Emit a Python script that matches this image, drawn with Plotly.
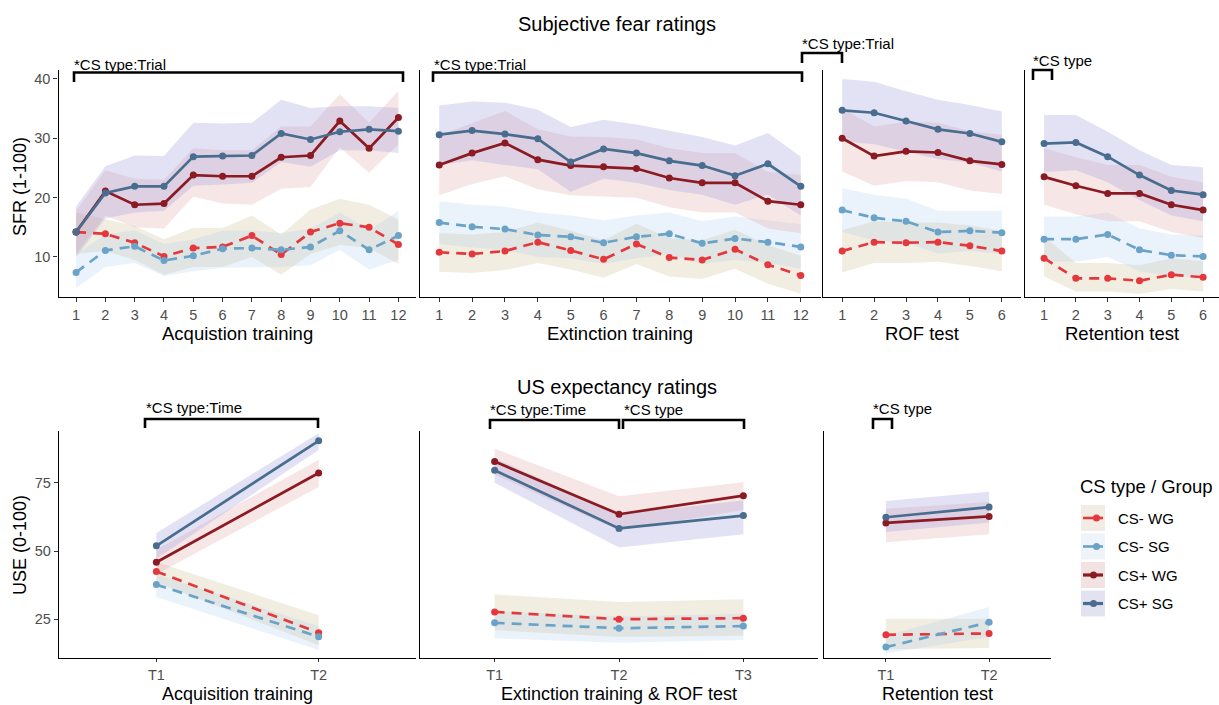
import plotly.graph_objects as go

W, H = 1219, 705

groups = ["CS- WG", "CS- SG", "CS+ WG", "CS+ SG"]
line_colors = {"CS- WG": "#E5383C", "CS- SG": "#6AA2C8", "CS+ WG": "#8B1A22", "CS+ SG": "#486D8F"}
fill_colors = {"CS- WG": "rgba(205,185,140,0.26)", "CS- SG": "rgba(175,210,240,0.26)",
               "CS+ WG": "rgba(225,160,160,0.26)", "CS+ SG": "rgba(150,150,215,0.28)"}
legend_box = {"CS- WG": "#F2ECE4", "CS- SG": "#EEF4FA", "CS+ WG": "#F2E2E2", "CS+ SG": "#E2E2F1"}
dashes = {"CS- WG": "10px,7px", "CS- SG": "10px,7px", "CS+ WG": "solid", "CS+ SG": "solid"}

# ---------------- Subjective fear ratings (SFR) ----------------
sfr_acq_x = [1, 2, 3, 4, 5, 6, 7, 8, 9, 10, 11, 12]
sfr_acq_mean = {
    "CS- WG": [14.2, 13.9, 12.4, 10.1, 11.5, 11.7, 13.6, 10.4, 14.2, 15.7, 15.0, 12.1],
    "CS- SG": [7.4, 11.1, 11.8, 9.4, 10.2, 11.4, 11.5, 11.2, 11.7, 14.4, 11.2, 13.6],
    "CS+ WG": [14.2, 21.1, 18.8, 19.0, 23.8, 23.6, 23.6, 26.8, 27.1, 32.9, 28.3, 33.5],
    "CS+ SG": [14.2, 20.8, 21.9, 21.9, 26.9, 27.0, 27.1, 30.8, 29.8, 31.1, 31.5, 31.2],
}
sfr_acq_lo = {
    "CS- WG": [10.5, 11.0, 9.5, 7.0, 8.3, 8.3, 10.0, 7.0, 10.5, 12.0, 11.5, 8.8],
    "CS- SG": [4.8, 8.3, 9.0, 6.8, 7.6, 8.2, 8.3, 8.3, 8.6, 11.2, 7.9, 9.5],
    "CS+ WG": [10.5, 17.0, 15.0, 14.8, 20.2, 19.0, 18.8, 21.5, 21.8, 28.5, 24.2, 29.0],
    "CS+ SG": [10.0, 16.5, 17.5, 17.8, 22.0, 22.2, 22.5, 26.0, 25.2, 28.0, 28.0, 27.5],
}
sfr_acq_hi = {
    "CS- WG": [17.5, 16.3, 15.2, 13.0, 14.9, 14.9, 17.0, 13.8, 18.0, 19.8, 18.8, 16.3],
    "CS- SG": [10.5, 13.8, 14.5, 12.2, 13.0, 14.4, 14.5, 14.0, 14.8, 17.5, 14.5, 17.8],
    "CS+ WG": [17.8, 24.6, 23.2, 23.0, 28.3, 28.0, 28.0, 32.0, 32.0, 37.4, 32.6, 38.0],
    "CS+ SG": [18.5, 25.3, 27.1, 27.0, 32.6, 32.5, 32.6, 36.5, 35.1, 35.4, 35.4, 35.1],
}

sfr_ext_x = [1, 2, 3, 4, 5, 6, 7, 8, 9, 10, 11, 12]
sfr_ext_mean = {
    "CS- WG": [10.8, 10.5, 11.0, 12.5, 11.1, 9.6, 12.2, 9.9, 9.5, 11.3, 8.7, 6.9],
    "CS- SG": [15.8, 15.1, 14.7, 13.7, 13.4, 12.4, 13.4, 13.9, 12.3, 13.1, 12.5, 11.7],
    "CS+ WG": [25.5, 27.5, 29.2, 26.4, 25.4, 25.2, 24.9, 23.3, 22.5, 22.5, 19.4, 18.8],
    "CS+ SG": [30.6, 31.3, 30.7, 29.9, 26.0, 28.2, 27.5, 26.2, 25.4, 23.7, 25.7, 21.9],
}
sfr_ext_lo = {
    "CS- WG": [7.5, 7.3, 7.8, 9.0, 7.9, 6.5, 8.8, 6.7, 6.3, 8.0, 5.5, 3.8],
    "CS- SG": [12.2, 11.6, 11.2, 10.0, 9.8, 8.8, 9.8, 10.4, 8.8, 9.5, 9.0, 8.0],
    "CS+ WG": [20.4, 22.3, 23.6, 21.4, 20.4, 20.2, 20.0, 18.4, 17.5, 17.5, 14.8, 14.0],
    "CS+ SG": [25.5, 26.3, 25.5, 24.8, 21.0, 23.2, 22.5, 21.3, 20.5, 18.8, 20.5, 17.0],
}
sfr_ext_hi = {
    "CS- WG": [14.0, 13.8, 14.2, 15.8, 14.4, 12.8, 15.6, 13.2, 12.8, 14.6, 12.0, 10.2],
    "CS- SG": [19.4, 18.8, 18.5, 17.5, 17.0, 16.2, 17.0, 17.5, 16.0, 16.8, 16.2, 15.5],
    "CS+ WG": [30.5, 32.5, 34.6, 31.5, 30.3, 30.2, 29.8, 28.3, 27.5, 27.5, 24.3, 23.8],
    "CS+ SG": [35.5, 36.2, 36.0, 34.8, 31.9, 33.1, 32.3, 31.2, 30.2, 28.8, 30.9, 26.9],
}

sfr_rof_x = [1, 2, 3, 4, 5, 6]
sfr_rof_mean = {
    "CS- WG": [11.0, 12.5, 12.4, 12.5, 11.9, 11.0],
    "CS- SG": [17.9, 16.6, 16.0, 14.2, 14.4, 14.1],
    "CS+ WG": [30.0, 27.0, 27.8, 27.6, 26.2, 25.6],
    "CS+ SG": [34.7, 34.3, 32.9, 31.5, 30.8, 29.4],
}
sfr_rof_lo = {
    "CS- WG": [7.4, 9.0, 9.0, 9.2, 8.5, 7.6],
    "CS- SG": [14.2, 12.8, 12.4, 10.6, 11.0, 10.5],
    "CS+ WG": [24.4, 22.0, 22.8, 22.6, 21.2, 20.6],
    "CS+ SG": [29.5, 29.0, 27.8, 26.5, 25.9, 24.4],
}
sfr_rof_hi = {
    "CS- WG": [14.5, 16.0, 15.8, 15.8, 15.3, 14.4],
    "CS- SG": [21.6, 20.5, 19.8, 17.8, 17.8, 17.8],
    "CS+ WG": [35.0, 32.0, 32.8, 32.6, 31.2, 30.6],
    "CS+ SG": [40.0, 39.5, 37.9, 36.5, 35.6, 34.5],
}

sfr_ret_x = [1, 2, 3, 4, 5, 6]
sfr_ret_mean = {
    "CS- WG": [9.8, 6.4, 6.4, 6.0, 7.0, 6.6],
    "CS- SG": [13.0, 13.0, 13.8, 11.2, 10.3, 10.1],
    "CS+ WG": [23.5, 22.0, 20.7, 20.7, 18.8, 17.9],
    "CS+ SG": [29.1, 29.3, 26.9, 23.8, 21.2, 20.5],
}
sfr_ret_lo = {
    "CS- WG": [6.7, 4.2, 4.2, 3.8, 4.6, 4.2],
    "CS- SG": [9.2, 9.2, 10.0, 7.6, 6.8, 6.6],
    "CS+ WG": [18.8, 17.2, 16.0, 16.0, 14.2, 13.2],
    "CS+ SG": [24.3, 24.6, 22.6, 19.6, 17.0, 16.0],
}
sfr_ret_hi = {
    "CS- WG": [13.5, 9.0, 9.0, 8.6, 9.8, 9.3],
    "CS- SG": [16.8, 16.8, 17.5, 14.8, 13.8, 13.6],
    "CS+ WG": [28.3, 26.8, 25.5, 25.5, 23.5, 22.6],
    "CS+ SG": [33.9, 33.9, 31.1, 28.0, 25.5, 25.1],
}

# ---------------- US expectancy ratings (USE) ----------------
use_acq_x = [1, 2]
use_acq_labels = ["T1", "T2"]
use_acq_mean = {"CS- WG": [42.5, 20.1], "CS- SG": [37.7, 18.6], "CS+ WG": [45.9, 78.6], "CS+ SG": [51.9, 90.4]}
use_acq_lo = {"CS- WG": [38.5, 15.5], "CS- SG": [33.2, 13.7], "CS+ WG": [41.5, 73.5], "CS+ SG": [47.2, 87.0]}
use_acq_hi = {"CS- WG": [46.0, 26.5], "CS- SG": [41.5, 22.5], "CS+ WG": [50.5, 83.5], "CS+ SG": [56.6, 93.2]}

use_ext_x = [1, 2, 3]
use_ext_labels = ["T1", "T2", "T3"]
use_ext_mean = {"CS- WG": [27.7, 25.0, 25.4], "CS- SG": [23.7, 21.7, 22.5],
                "CS+ WG": [82.8, 63.5, 70.3], "CS+ SG": [79.6, 58.3, 63.0]}
use_ext_lo = {"CS- WG": [21.0, 18.5, 19.0], "CS- SG": [18.0, 16.4, 17.4],
              "CS+ WG": [78.0, 57.5, 65.0], "CS+ SG": [75.0, 51.3, 56.2]}
use_ext_hi = {"CS- WG": [34.1, 31.3, 32.3], "CS- SG": [28.0, 26.0, 27.0],
              "CS+ WG": [87.5, 70.1, 75.2], "CS+ SG": [84.0, 63.5, 68.5]}

use_ret_x = [1, 2]
use_ret_labels = ["T1", "T2"]
use_ret_mean = {"CS- WG": [19.3, 19.8], "CS- SG": [14.8, 23.9], "CS+ WG": [60.3, 62.7], "CS+ SG": [62.4, 66.1]}
use_ret_lo = {"CS- WG": [14.0, 14.5], "CS- SG": [12.5, 18.5], "CS+ WG": [53.2, 56.2], "CS+ SG": [57.0, 60.5]}
use_ret_hi = {"CS- WG": [25.2, 25.2], "CS- SG": [19.0, 29.5], "CS+ WG": [65.5, 68.0], "CS+ SG": [68.3, 71.7]}

sfr_ticks = [10, 20, 30, 40]
use_ticks = [25, 50, 75]


def X(px):
    return px / W


def Y(py):
    return 1 - py / H


panels = [
    (sfr_acq_x, sfr_acq_mean, sfr_acq_lo, sfr_acq_hi, (58.5, 416), [0.4, 12.6], "top", sfr_acq_x, [str(v) for v in sfr_acq_x], "Acquistion training"),
    (sfr_ext_x, sfr_ext_mean, sfr_ext_lo, sfr_ext_hi, (419.5, 820.5), [0.4, 12.6], "top", sfr_ext_x, [str(v) for v in sfr_ext_x], "Extinction training"),
    (sfr_rof_x, sfr_rof_mean, sfr_rof_lo, sfr_rof_hi, (823, 1021), [0.4, 6.6], "top", sfr_rof_x, [str(v) for v in sfr_rof_x], "ROF test"),
    (sfr_ret_x, sfr_ret_mean, sfr_ret_lo, sfr_ret_hi, (1025, 1219), [0.4, 6.5], "top", sfr_ret_x, [str(v) for v in sfr_ret_x], "Retention test"),
    (use_acq_x, use_acq_mean, use_acq_lo, use_acq_hi, (59, 416), [0.4, 2.6], "bottom", use_acq_x, use_acq_labels, "Acquisition training"),
    (use_ext_x, use_ext_mean, use_ext_lo, use_ext_hi, (420, 818), [0.4, 3.6], "bottom", use_ext_x, use_ext_labels, "Extinction training &amp; ROF test"),
    (use_ret_x, use_ret_mean, use_ret_lo, use_ret_hi, (824, 1051), [0.4, 2.6], "bottom", use_ret_x, use_ret_labels, "Retention test"),
]

rows = {
    "top": {"py": (70, 297), "range": [3.26, 41.5], "ticks": sfr_ticks, "title_y": 333, "title_size": 18.5, "ticklen": 4},
    "bottom": {"py": (431, 658), "range": [10.8, 94.0], "ticks": use_ticks, "title_y": 693.5, "title_size": 18, "ticklen": 3},
}

FONT = "Liberation Sans, Arial, sans-serif"
TICKFONT = dict(size=14.5, color="#4D4D4D", family=FONT)
fig = go.Figure()
layout = {}
annotations = []
shapes = []

for i, (xs, mean, lo, hi, dom, xr, row, tv, tt, xtitle) in enumerate(panels):
    n = i + 1
    xa = "x" if n == 1 else f"x{n}"
    ya = "y" if n == 1 else f"y{n}"
    r = rows[row]
    first = (i == 0 or i == 4)
    for g in groups:
        fig.add_trace(go.Scatter(
            x=list(xs) + list(xs)[::-1], y=list(hi[g]) + list(lo[g])[::-1],
            fill="toself", fillcolor=fill_colors[g], line=dict(width=0),
            mode="lines", hoverinfo="skip", showlegend=False, xaxis=xa, yaxis=ya))
    for g in groups:
        fig.add_trace(go.Scatter(
            x=xs, y=mean[g], mode="lines+markers", name=g,
            line=dict(color=line_colors[g], width=2.7, dash=dashes[g]),
            marker=dict(color=line_colors[g], size=7),
            showlegend=False, xaxis=xa, yaxis=ya))
    layout[("xaxis" if n == 1 else f"xaxis{n}")] = dict(
        domain=[X(dom[0]), X(dom[1])], range=xr, anchor=ya,
        showline=True, linecolor="#000000", linewidth=1.3,
        ticks="outside", ticklen=r["ticklen"], tickcolor="#333333", tickwidth=1,
        tickvals=tv, ticktext=tt, tickfont=TICKFONT,
        showgrid=False, zeroline=False, fixedrange=True)
    layout[("yaxis" if n == 1 else f"yaxis{n}")] = dict(
        domain=[Y(r["py"][1]), Y(r["py"][0])], range=r["range"], anchor=xa,
        showline=True, linecolor="#000000", linewidth=1.3,
        ticks="outside" if first else "", ticklen=4, tickcolor="#333333",
        showticklabels=first, tickvals=r["ticks"], tickfont=TICKFONT,
        showgrid=False, zeroline=False, fixedrange=True)
    annotations.append(dict(text=xtitle, x=X((dom[0] + dom[1]) / 2), y=Y(r["title_y"]),
                            xref="paper", yref="paper", showarrow=False,
                            font=dict(size=r["title_size"], color="#000000", family=FONT),
                            xanchor="center", yanchor="middle"))

extra = [
    dict(text="SFR (1-100)", x=X(20), y=Y(187), textangle=-90, font=dict(size=18, color="#000000", family=FONT)),
    dict(text="USE (0-100)", x=X(20), y=Y(545), textangle=-90, font=dict(size=18, color="#000000", family=FONT)),
    dict(text="Subjective fear ratings", x=X(617), y=Y(24), font=dict(size=20, color="#000000", family=FONT)),
    dict(text="US expectancy ratings", x=X(617), y=Y(387), font=dict(size=20, color="#000000", family=FONT)),
]
for a in extra:
    a.update(xref="paper", yref="paper", showarrow=False, xanchor="center", yanchor="middle")
annotations += extra

brackets = [
    (74, 403, 72.5, 82, "*CS type:Trial", 72, 64),
    (433, 802, 72.5, 82, "*CS type:Trial", 432, 64),
    (802, 842, 53, 63, "*CS type:Trial", 800, 44),
    (1033, 1052, 70, 80, "*CS type", 1031, 60),
    (145, 318, 419, 428, "*CS type:Time", 144, 408),
    (490, 619, 420, 429, "*CS type:Time", 488, 410),
    (623, 744, 420, 429, "*CS type", 622, 410),
    (873, 892, 419, 429, "*CS type", 871, 409),
]
for x0, x1, yt, yb, txt, tx, ty in brackets:
    shapes.append(dict(type="path", xref="paper", yref="paper",
                       path=f"M {X(x0)},{Y(yb)} L {X(x0)},{Y(yt)} L {X(x1)},{Y(yt)} L {X(x1)},{Y(yb)}",
                       line=dict(color="#000000", width=2.6)))
    annotations.append(dict(text=txt, x=X(tx), y=Y(ty), xref="paper", yref="paper", showarrow=False,
                            xanchor="left", yanchor="middle",
                            font=dict(size=15, color="#000000", family=FONT)))

annotations.append(dict(text="CS type / Group", x=X(1078), y=Y(486), xref="paper", yref="paper",
                        showarrow=False, xanchor="left", yanchor="middle",
                        font=dict(size=18.5, color="#000000", family=FONT)))
leg_rows = [518, 546.5, 575, 603.5]
for g, cy in zip(groups, leg_rows):
    shapes.append(dict(type="rect", xref="paper", yref="paper", x0=X(1081), x1=X(1105),
                       y0=Y(cy + 13), y1=Y(cy - 13), fillcolor=legend_box[g], line=dict(width=0), layer="below"))
    wide = 3.2 if g.startswith("CS+") else 2.6
    shapes.append(dict(type="line", xref="paper", yref="paper", x0=X(1083), x1=X(1103),
                       y0=Y(cy), y1=Y(cy), line=dict(color=line_colors[g], width=wide)))
    off = 3 if g.startswith("CS-") else 0
    shapes.append(dict(type="circle", xref="paper", yref="paper", x0=X(1090 + off), x1=X(1097 + off),
                       y0=Y(cy + 3.5), y1=Y(cy - 3.5), fillcolor=line_colors[g], line=dict(width=0)))
    annotations.append(dict(text=g, x=X(1116), y=Y(cy), xref="paper", yref="paper", showarrow=False,
                            xanchor="left", yanchor="middle",
                            font=dict(size=15, color="#000000", family=FONT)))

fig.update_layout(
    width=W, height=H, margin=dict(l=0, r=0, t=0, b=0),
    paper_bgcolor="white", plot_bgcolor="white",
    font=dict(family=FONT, color="#000000"),
    showlegend=False, annotations=annotations, shapes=shapes, **layout)

fig.write_html("out.html")
